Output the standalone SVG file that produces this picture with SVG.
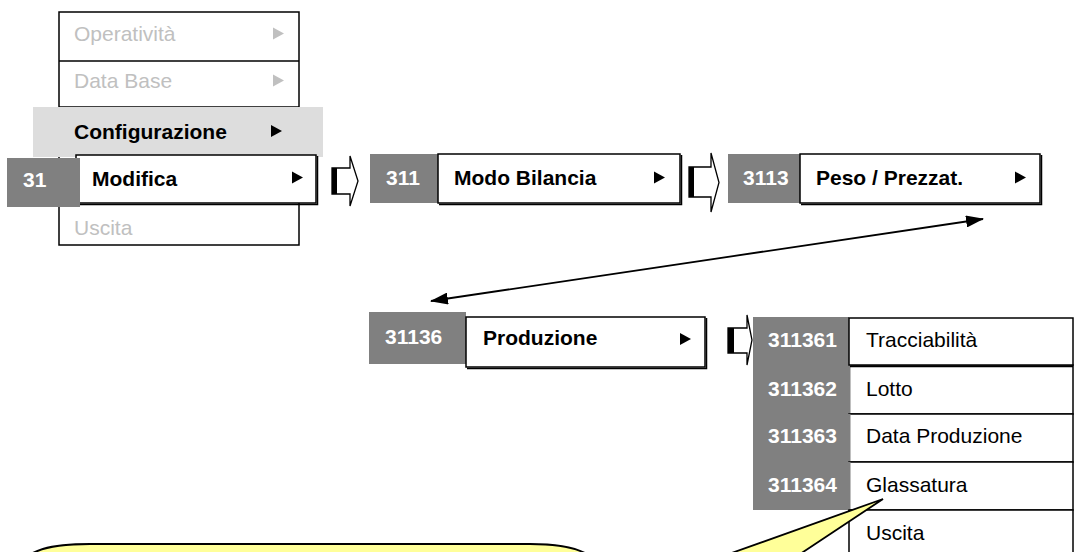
<svg xmlns="http://www.w3.org/2000/svg" width="1075" height="552" viewBox="0 0 1075 552">
<style>
.t{font-family:"Liberation Sans",Arial,sans-serif;font-size:21px;fill:#000}
.b{font-weight:bold}
.dis{fill:#c0c0c0}
.num{fill:#fff;font-weight:bold}
.gray{fill:#808080}
.box{fill:#fff;stroke:#000;stroke-width:1.5}
.sh{fill:none;stroke:#000;stroke-width:1.5}
.tri{fill:#000}
.trid{fill:#c0c0c0}
.blk{fill:#fff;stroke:#000;stroke-width:1.3;stroke-linejoin:miter}
.line{stroke:#000;stroke-width:1.8;fill:none}
.yel{fill:#ffff99;stroke:#000;stroke-width:2}
</style>
<defs>
<marker id="ah" viewBox="0 0 18 12" refX="17" refY="6" markerWidth="18" markerHeight="12" markerUnits="userSpaceOnUse" orient="auto-start-reverse">
<path d="M0,0 L18,6 L0,12 Z" fill="#000"/>
</marker>
</defs>
<rect width="1075" height="552" fill="#fff"/>

<g id="menu-main">
<rect x="59" y="12" width="240" height="233" fill="#fff" stroke="#000" stroke-width="1.5"/>
<line x1="59" y1="61" x2="299" y2="61" stroke="#000" stroke-width="1.5"/>
<line x1="59" y1="107" x2="299" y2="107" stroke="#000" stroke-width="1.5"/>
</g>
<g id="item-operativita">
<text class="t dis" x="74" y="41">Operatività</text>
<path class="trid" d="M273,27.5 L284,33.5 L273,39.5 Z"/>
</g>
<g id="item-database">
<text class="t dis" x="74" y="88">Data Base</text>
<path class="trid" d="M273,74.5 L284,80.5 L273,86.5 Z"/>
</g>
<g id="item-configurazione">
<rect x="33" y="107" width="290" height="50" fill="#dddddd"/>
<text class="t b" x="74" y="139">Configurazione</text>
<path class="tri" d="M271,125 L282,131 L271,137 Z"/>
</g>
<g id="node-31">
<rect class="box" x="76" y="155" width="240" height="48"/>
<polyline class="sh" points="317.5,156 317.5,204.5 77,204.5"/>
<rect class="gray" x="7" y="158" width="73" height="49"/>
<text class="t num" x="23" y="187">31</text>
<text class="t b" x="92" y="186">Modifica</text>
<path class="tri" d="M292,171.5 L303,177.5 L292,183.5 Z"/>
</g>
<g id="item-uscita">
<text class="t dis" x="74" y="235">Uscita</text>
</g>

<g id="node-311">
<rect class="gray" x="370" y="154" width="68" height="49"/>
<rect class="box" x="438" y="154" width="242" height="49"/>
<polyline class="sh" points="681.5,155 681.5,204.5 439,204.5"/>
<text class="t num" x="386" y="185">311</text>
<text class="t b" x="454" y="185">Modo Bilancia</text>
<path class="tri" d="M654,171.5 L665,177.5 L654,183.5 Z"/>
</g>

<g id="node-3113">
<rect class="gray" x="728" y="154" width="72" height="49"/>
<rect class="box" x="800" y="154" width="240" height="49"/>
<polyline class="sh" points="1041.5,155 1041.5,204.5 801,204.5"/>
<text class="t num" x="743" y="185">3113</text>
<text class="t b" x="816" y="185">Peso / Prezzat.</text>
<path class="tri" d="M1015,171.5 L1026,177.5 L1015,183.5 Z"/>
</g>

<g id="node-31136">
<rect class="gray" x="369" y="312" width="97" height="52"/>
<rect class="box" x="466" y="317" width="239" height="50"/>
<polyline class="sh" points="706.5,318 706.5,368.5 467,368.5"/>
<text class="t num" x="385" y="344">31136</text>
<text class="t b" x="483" y="345">Produzione</text>
<path class="tri" d="M680,333 L691,339 L680,345 Z"/>
</g>

<g id="node-311362">
<rect class="box" x="849" y="365" width="224" height="49"/>
<rect class="gray" x="753" y="365" width="97.5" height="49"/>
<text class="t num" x="768" y="396">311362</text>
<text class="t" x="866" y="396">Lotto</text>
</g>
<g id="node-311363">
<rect class="box" x="849" y="414" width="224" height="48"/>
<rect class="gray" x="753" y="414" width="97.5" height="48"/>
<text class="t num" x="768" y="443">311363</text>
<text class="t" x="866" y="443">Data Produzione</text>
</g>
<g id="node-311364">
<rect class="box" x="849" y="462" width="224" height="48"/>
<rect class="gray" x="753" y="462" width="97.5" height="48"/>
<text class="t num" x="768" y="492">311364</text>
<text class="t" x="866" y="492">Glassatura</text>
</g>
<g id="node-uscita2">
<rect class="box" x="849" y="510" width="224" height="60"/>
<text class="t" x="866" y="540">Uscita</text>
</g>
<g id="node-311361">
<rect class="gray" x="753" y="317" width="96" height="48"/>
<rect class="box" x="849" y="318" width="224" height="47"/>
<line x1="850" y1="366.5" x2="1073" y2="366.5" stroke="#000" stroke-width="1.5"/>
<text class="t num" x="768" y="347">311361</text>
<text class="t" x="866" y="347">Tracciabilità</text>
</g>

<g id="connectors">
<path class="blk" d="M332,168 H350 V156 L358,181 L350,206 V194 H332 Z"/>
<rect x="332" y="168" width="5" height="26" fill="#000"/>
<path class="blk" d="M689,167 H711 V153 L719,182.5 L711,212 V197 H689 Z"/>
<rect x="689" y="167" width="5" height="30" fill="#000"/>
<path class="blk" d="M728,328 H747 V315 L752,340 L747,365 V353 H728 Z"/>
<rect x="728" y="328" width="6" height="25" fill="#000"/>
<line class="line" x1="431" y1="301" x2="983" y2="219" marker-start="url(#ah)" marker-end="url(#ah)"/>
</g>

<g id="callout">
<path class="yel" d="M22,565 C27,550 50,544 90,544 L530,544 C565,544 590,550 598,565 Z"/>
<polygon points="883,499 684,570 776,570" fill="#ffff99" stroke="#000" stroke-width="1.8" stroke-linejoin="miter"/>
</g>
</svg>
